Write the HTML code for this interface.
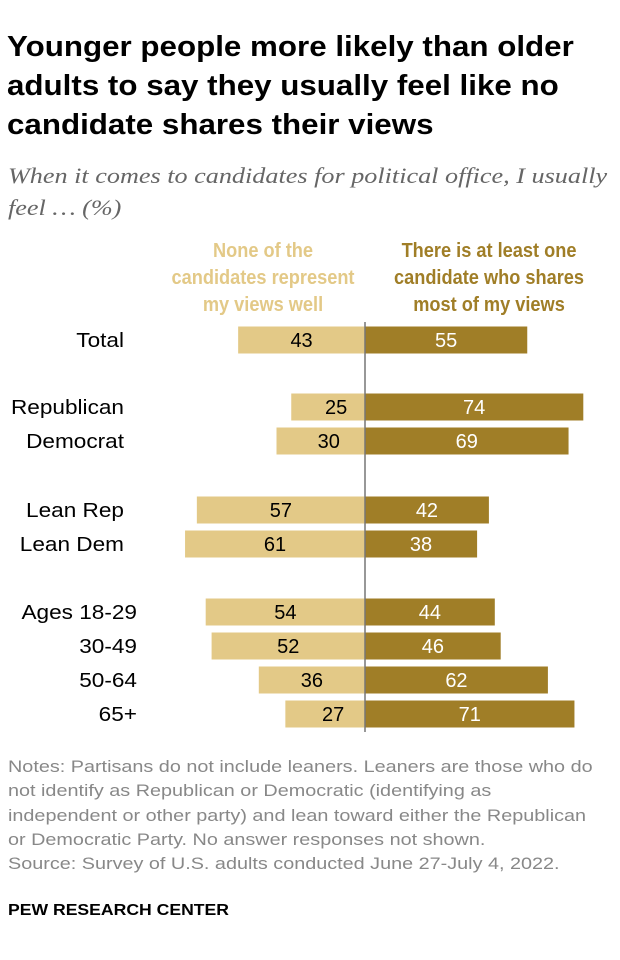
<!DOCTYPE html>
<html><head><meta charset="utf-8"><style>
body{margin:0;width:620px;height:960px;background:#fff;font-family:"Liberation Sans",Arial,sans-serif;overflow:hidden}
.t{position:absolute;left:7px;top:28px;font-size:29px;font-weight:bold;line-height:39px;color:#000;white-space:nowrap;transform:scaleX(1.08);transform-origin:0 0}
.s{position:absolute;left:8px;top:160px;font-family:"Liberation Serif",serif;font-style:italic;font-size:22px;line-height:32px;color:#666;white-space:nowrap;transform:scaleX(1.19);transform-origin:0 0}
.n{position:absolute;left:8px;top:755px;font-size:17px;line-height:24.3px;color:#888;white-space:nowrap;transform:scaleX(1.165);transform-origin:0 0}
.p{position:absolute;left:8px;top:902px;font-size:16px;font-weight:bold;color:#000;white-space:nowrap;transform:scaleX(1.1);transform-origin:0 0}
</style></head><body>
<div class="t">Younger people more likely than older<br>adults to say they usually feel like no<br>candidate shares their views</div>
<div class="s">When it comes to candidates for political office, I usually<br>feel … (%)</div>
<svg id="c" width="620" height="960" style="position:absolute;left:0;top:0"></svg>
<div class="n">Notes: Partisans do not include leaners. Leaners are those who do<br>not identify as Republican or Democratic (identifying as<br>independent or other party) and lean toward either the Republican<br>or Democratic Party. No answer responses not shown.<br>Source: Survey of U.S. adults conducted June 27-July 4, 2022.</div>
<div class="p">PEW RESEARCH CENTER</div>
<script>
const categories=["Total","Republican","Democrat","Lean Rep","Lean Dem","Ages 18-29","30-49","50-64","65+"];
const noneValues=[43,25,30,57,61,54,52,36,27];
const oneValues=[55,74,69,42,38,44,46,62,71];
const rowY=[340,407,441,510,544,612,646,680,714];
const labelX=[124,124,124,124,124,137,137,137,137];
const svg=document.getElementById('c');
const NS='http://www.w3.org/2000/svg';
const cx=365,k=2.95,bh=27;
const x=v=>v*k;
function mk(t,a,txt){const e=document.createElementNS(NS,t);for(const q in a)e.setAttribute(q,a[q]);if(txt!=null)e.textContent=txt;svg.appendChild(e);return e;}
function hdr(lines,xx,col,name){lines.forEach((l,i)=>{const e=mk('text',{x:0,y:0,transform:`translate(${xx},${257+i*27}) scale(0.91,1)`,'text-anchor':'middle','font-size':20,'font-weight':'bold',fill:col},l);

});}
hdr(["None of the","candidates represent","my views well"],263,"#e3c987","legend-none");
hdr(["There is at least one","candidate who shares","most of my views"],489,"#a07e27","legend-one");
categories.forEach((c,i)=>{
 const y=rowY[i];
 let e=mk('text',{x:0,y:0,transform:`translate(${labelX[i]},${y+7}) scale(1.13,1)`,'text-anchor':'end','font-size':20,fill:'#000'},c);
 
 
 e=mk('rect',{x:cx-x(noneValues[i]),y:y-bh/2,width:x(noneValues[i]),height:bh,fill:'#e3c987'});
 
 
 e=mk('rect',{x:cx,y:y-bh/2,width:x(oneValues[i]),height:bh,fill:'#a07e27'});
 
 
 e=mk('text',{x:cx-x(noneValues[i])/2+(noneValues[i]<35?8:0),y:y+7,'text-anchor':'middle','font-size':20,fill:'#000'},noneValues[i]);
 
 
 e=mk('text',{x:cx+x(oneValues[i])/2,y:y+7,'text-anchor':'middle','font-size':20,fill:'#fff'},oneValues[i]);
 
 
});
const ln=mk('line',{x1:cx,x2:cx,y1:322,y2:732,stroke:'#777','stroke-width':1.5});


</script>
</body></html>
